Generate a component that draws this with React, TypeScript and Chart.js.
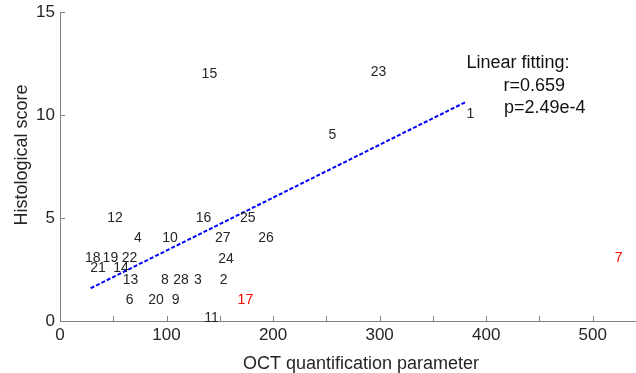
import React, { useEffect, useRef } from "react";
import { Chart, registerables } from "chart.js";

Chart.register(...registerables);

// Point labels (patient numbers) with OCT parameter (x) and histological score (y)
const pointLabels = ["1","2","3","4","5","6","7","8","9","10","11","12","13","14","15","16","17","18","19","20","21","22","23","24","25","26","27","28"];
const octValues = [381.5,150,125.7,69.4,252,61.6,520.6,94.7,104.8,96,135.4,44.4,58.8,50,132.9,127.3,166.7,23.5,40,82.8,28.4,57.9,291.7,148.5,168.9,186,145.4,106.3];
const histoScores = [10.05,2,2,4,9.03,1,3.04,2,1,4,0.13,5,2,2.55,12,5,1,3.04,3.04,1,2.55,3.04,12.1,3,5,4,4,2];
const excludedLabels = ["7","17"];

// Linear fit end points
const fitX = [28.8, 381.5];
const fitY = [1.59, 10.65];

const xTickLabels = ["0","100","200","300","400","500"];
const yTickLabels = ["0","5","10","15"];

const fitText = ["Linear fitting:", "r=0.659", "p=2.49e-4"];
const xTitle = "OCT quantification parameter";
const yTitle = "Histological score";

const FONT = 'Arial, "Liberation Sans", Helvetica, sans-serif';
const TEXT = "#262626";
const AXIS = "#808080";

export default function App() {
  const ref = useRef<HTMLCanvasElement | null>(null);

  useEffect(() => {
    const canvas = ref.current;
    if (!canvas) return;

    const overlay = {
      id: "overlay",
      afterDraw(chart: any) {
        const ctx = chart.ctx;
        const xs = chart.scales.x;
        const ys = chart.scales.y;
        const area = chart.chartArea;
        ctx.save();
        // inward tick marks
        ctx.strokeStyle = AXIS;
        ctx.lineWidth = 1;
        ctx.beginPath();
        xs.ticks.forEach((t: any) => {
          const px = Math.round(xs.getPixelForValue(t.value)) + 0.5;
          ctx.moveTo(px, area.bottom);
          ctx.lineTo(px, area.bottom - 5);
        });
        ys.ticks.forEach((t: any) => {
          const py = Math.round(ys.getPixelForValue(t.value)) + 0.5;
          ctx.moveTo(area.left, py);
          ctx.lineTo(area.left + 5, py);
        });
        ctx.stroke();

        // point labels
        ctx.font = `14px ${FONT}`;
        ctx.textAlign = "left";
        ctx.textBaseline = "middle";
        pointLabels.forEach((lab, i) => {
          ctx.fillStyle = excludedLabels.includes(lab) ? "#ff0000" : TEXT;
          ctx.fillText(lab, xs.getPixelForValue(octValues[i]), ys.getPixelForValue(histoScores[i]));
        });

        // fit annotation
        ctx.fillStyle = "#111111";
        ctx.font = `18px ${FONT}`;
        ctx.textBaseline = "alphabetic";
        ctx.fillText(fitText[0], 466.5, 68);
        ctx.fillText(fitText[1], 503.5, 91);
        ctx.fillText(fitText[2], 504, 113);

        // axis titles
        ctx.fillStyle = TEXT;
        ctx.textAlign = "center";
        ctx.fillText(xTitle, 361, 369);
        ctx.translate(27, 155);
        ctx.rotate(-Math.PI / 2);
        ctx.fillText(yTitle, 0, 0);
        ctx.restore();
      },
    };

    const chart = new Chart(canvas, {
      type: "scatter",
      data: {
        datasets: [
          {
            label: "patients",
            data: octValues.map((v, i) => ({ x: v, y: histoScores[i] })),
            pointRadius: 0,
            pointHoverRadius: 0,
            showLine: false,
          },
          {
            label: "fit",
            data: fitX.map((v, i) => ({ x: v, y: fitY[i] })),
            showLine: true,
            borderColor: "#0000ff",
            borderWidth: 2,
            borderDash: [4, 2],
            pointRadius: 0,
            fill: false,
          },
        ],
      },
      options: {
        animation: false,
        responsive: false,
        devicePixelRatio: 1,
        events: [],
        layout: { padding: { top: 12, left: 0, right: 0, bottom: 0 } },
        plugins: { legend: { display: false }, tooltip: { enabled: false }, title: { display: false } },
        scales: {
          x: {
            type: "linear",
            min: 0,
            max: 565,
            afterBuildTicks: (s: any) => {
              s.ticks = s.ticks.filter((t: any) => t.value % 50 === 0);
            },
            afterFit: (s: any) => {
              s.height = 52;
              s.paddingLeft = 0;
              s.paddingRight = 0;
            },
            grid: { display: false, drawTicks: false },
            border: { display: true, color: AXIS, width: 1 },
            ticks: {
              stepSize: 50,
              padding: 4,
              color: TEXT,
              font: { family: FONT, size: 17 },
              maxRotation: 0,
              autoSkip: false,
              callback: (v: any) => (xTickLabels.includes(String(v)) ? String(v) : ""),
            },
          },
          y: {
            type: "linear",
            min: 0,
            max: 15,
            afterFit: (s: any) => {
              s.width = 60;
              s.paddingTop = 0;
              s.paddingBottom = 0;
            },
            grid: { display: false, drawTicks: false },
            border: { display: true, color: AXIS, width: 1 },
            ticks: {
              stepSize: 5,
              padding: 5,
              color: TEXT,
              font: { family: FONT, size: 17 },
              callback: (v: any) => (yTickLabels.includes(String(v)) ? String(v) : ""),
            },
          },
        },
      },
      plugins: [overlay],
    });

    return () => chart.destroy();
  }, []);

  return (
    <div style={{ position: "fixed", left: 0, top: 0, width: 636, height: 373, overflow: "hidden", background: "#ffffff" }}>
      <canvas ref={ref} width={662} height={373} style={{ width: 662, height: 373, display: "block" }} />
    </div>
  );
}
